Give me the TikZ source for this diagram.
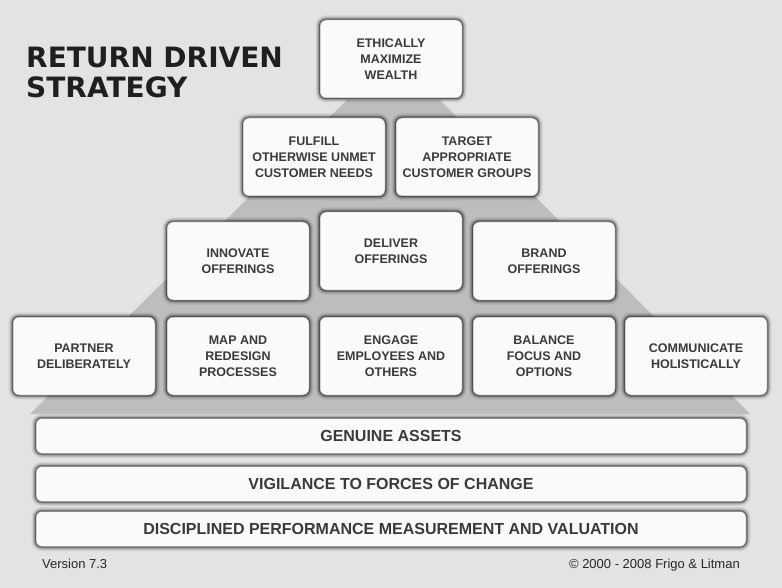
\documentclass[tikz,border=0pt]{standalone}
\usepackage{fontspec}
\setmainfont{Liberation Sans}
\newfontfamily\titlefont{DejaVu Sans}
\usepackage{tikz}

\definecolor{paper}{HTML}{E3E3E4}
\definecolor{pyramid}{HTML}{BDBDBD}
\definecolor{ink}{HTML}{3A3A3A}

\begin{document}
\begin{tikzpicture}[x=1pt, y=-1pt,
  halo/.style={preaction={draw=black, line width=9pt, opacity=0.08},
               preaction={draw=black, line width=6pt, opacity=0.15},
               preaction={draw=black, line width=3.5pt, opacity=0.25},
               preaction={draw=black, line width=1.8pt, opacity=0.35}},
  block/.style={halo, draw=black!45, line width=0.5pt, fill=white!98!black, rounded corners=6pt,
    minimum width=142pt, minimum height=78pt, inner sep=0pt, align=center, text=ink,
    font=\fontsize{12.5}{16}\selectfont\bfseries},
  base/.style={block, minimum width=710pt, minimum height=35pt,
    font=\fontsize{16}{18}\selectfont\bfseries},
  foot/.style={inner sep=0pt, text=black!85, font=\fontsize{13}{15}\selectfont}]

% draw background and pyramid
\useasboundingbox[fill=paper] (0, 0) rectangle (782, 588);
\fill[pyramid] (347, 100) -- (440, 100) -- (750, 414) -- (30, 414) -- cycle;

% draw title
\node[anchor=north west, inner sep=0pt, align=left, text=black!88,
      font=\fontsize{28}{30}\selectfont\titlefont\bfseries] (title) at (26, 47) {RETURN DRIVEN\\STRATEGY};

% draw top of pyramid
\node[block] (ethics) at (391, 59) {ETHICALLY\\MAXIMIZE\\WEALTH};

% draw customer row
\node[block] (fulfill) at (314, 157) {FULFILL\\OTHERWISE UNMET\\CUSTOMER NEEDS};
\node[block] (target) at (467, 157) {TARGET\\APPROPRIATE\\CUSTOMER GROUPS};

% draw offerings row
\node[block] (innovate) at (238, 261) {INNOVATE\\OFFERINGS};
\node[block] (deliver) at (391, 251) {DELIVER\\OFFERINGS};
\node[block] (brand) at (544, 261) {BRAND\\OFFERINGS};

% draw capabilities row
\node[block] (partner) at (84, 356) {PARTNER\\DELIBERATELY};
\node[block] (redesign) at (238, 356) {MAP AND\\REDESIGN\\PROCESSES};
\node[block] (engage) at (391, 356) {ENGAGE\\EMPLOYEES AND\\OTHERS};
\node[block] (balance) at (544, 356) {BALANCE\\FOCUS AND\\OPTIONS};
\node[block] (communicate) at (696, 356) {COMMUNICATE\\HOLISTICALLY};

% draw foundation bars
\node[base] (assets) at (391, 436) {GENUINE ASSETS};
\node[base] (vigilance) at (391, 484) {VIGILANCE TO FORCES OF CHANGE};
\node[base] (measure) at (391, 529) {DISCIPLINED PERFORMANCE MEASUREMENT AND VALUATION};

% draw footer
\node[foot, anchor=base west] (version) at (42, 568) {Version 7.3};
\node[foot, anchor=base east] (copyright) at (740, 568) {© 2000 - 2008 Frigo \& Litman};

\end{tikzpicture}
\end{document}
